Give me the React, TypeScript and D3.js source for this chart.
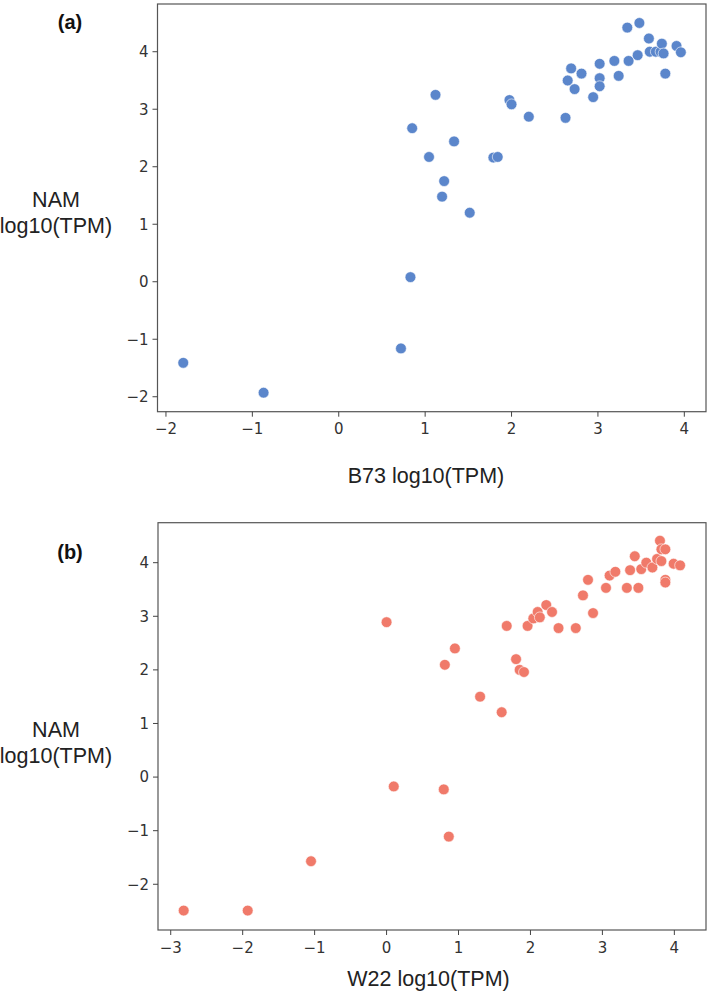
import React from "react";
import * as d3 from "d3";

// Panel (a): B73 vs NAM
const b73X = [-1.80, -0.87, 0.72, 0.83, 1.12, 0.85, 1.045, 1.335, 1.22, 1.196, 1.516, 1.79, 1.84, 1.976, 2.0, 2.20, 2.625, 2.69, 2.65, 2.73, 2.81, 2.945, 3.02, 3.02, 3.02, 3.19, 3.24, 3.34, 3.355, 3.46, 3.48, 3.59, 3.60, 3.67, 3.725, 3.74, 3.76, 3.78, 3.91, 3.96];
const b73Y = [-1.41, -1.93, -1.16, 0.08, 3.25, 2.67, 2.17, 2.44, 1.75, 1.48, 1.20, 2.16, 2.17, 3.16, 3.085, 2.87, 2.85, 3.71, 3.50, 3.35, 3.62, 3.21, 3.79, 3.54, 3.40, 3.84, 3.58, 4.42, 3.84, 3.94, 4.50, 4.23, 4.0, 4.0, 4.0, 4.14, 3.97, 3.62, 4.10, 3.99];

// Panel (b): W22 vs NAM
const w22X = [0.0, -2.82, -1.93, -1.05, 0.10, 0.795, 0.865, 0.81, 0.95, 1.30, 1.60, 1.67, 1.80, 1.85, 1.91, 1.96, 2.04, 2.10, 2.13, 2.22, 2.30, 2.39, 2.63, 2.73, 2.80, 2.87, 3.05, 3.10, 3.18, 3.34, 3.385, 3.45, 3.50, 3.54, 3.61, 3.695, 3.76, 3.80, 3.82, 3.875, 3.82, 3.875, 3.875, 3.99, 4.08];
const w22Y = [2.89, -2.49, -2.49, -1.57, -0.175, -0.23, -1.11, 2.095, 2.40, 1.50, 1.21, 2.82, 2.20, 2.0, 1.96, 2.82, 2.96, 3.08, 2.98, 3.21, 3.08, 2.78, 2.78, 3.39, 3.68, 3.06, 3.53, 3.76, 3.83, 3.53, 3.86, 4.12, 3.53, 3.88, 4.0, 3.91, 4.07, 4.41, 4.25, 4.25, 4.03, 3.68, 3.63, 3.98, 3.95];

const tickValuesA_X = [-2, -1, 0, 1, 2, 3, 4];
const tickValuesA_Y = [-2, -1, 0, 1, 2, 3, 4];
const tickValuesB_X = [-3, -2, -1, 0, 1, 2, 3, 4];
const tickValuesB_Y = [-2, -1, 0, 1, 2, 3, 4];

const TICK_FONT = "'DejaVu Sans', sans-serif";
const LABEL_FONT = "'Liberation Sans', Arial, sans-serif";

type PanelProps = {
  xs: number[];
  ys: number[];
  xDomain: [number, number];
  yDomain: [number, number];
  xTicks: number[];
  yTicks: number[];
  left: number;
  top: number;
  right: number;
  bottom: number;
  color: string;
  letter: string;
  letterY: number;
  xLabel: string;
  xLabelX: number;
  xLabelY: number;
  yLabelY: number;
};

function fmt(v: number) {
  return v < 0 ? "\u2212" + Math.abs(v) : String(v);
}

function Panel(p: PanelProps) {
  const x = d3.scaleLinear().domain(p.xDomain).range([p.left, p.right]);
  const y = d3.scaleLinear().domain(p.yDomain).range([p.bottom, p.top]);
  const pts = p.xs.map((v, i) => [v, p.ys[i]] as [number, number]);
  return (
    <g>
      {pts.map(([a, b], i) => (
        <circle key={i} cx={x(a)} cy={y(b)} r={5.4} fill={p.color} stroke="#ffffff" strokeWidth={0.6} />
      ))}
      <rect x={p.left} y={p.top} width={p.right - p.left} height={p.bottom - p.top} fill="none" stroke="#555" strokeWidth={1.2} />
      {p.xTicks.map((t) => (
        <g key={"x" + t}>
          <line x1={x(t)} x2={x(t)} y1={p.bottom} y2={p.bottom + 5} stroke="#444" strokeWidth={1} />
          <text x={x(t)} y={p.bottom + 22.5} textAnchor="middle" fontFamily={TICK_FONT} fontSize={15} fill="#333">
            {fmt(t)}
          </text>
        </g>
      ))}
      {p.yTicks.map((t) => (
        <g key={"y" + t}>
          <line x1={p.left - 5} x2={p.left} y1={y(t)} y2={y(t)} stroke="#444" strokeWidth={1} />
          <text x={p.left - 9} y={y(t) + 5.3} textAnchor="end" fontFamily={TICK_FONT} fontSize={15} fill="#333">
            {fmt(t)}
          </text>
        </g>
      ))}
      <text x={70} y={p.letterY} textAnchor="middle" fontFamily={LABEL_FONT} fontWeight="bold" fontSize={20} fill="#111">
        {p.letter}
      </text>
      <text x={56} y={p.yLabelY} textAnchor="middle" fontFamily={LABEL_FONT} fontSize={21.5} fill="#222">
        NAM
      </text>
      <text x={56} y={p.yLabelY + 26} textAnchor="middle" fontFamily={LABEL_FONT} fontSize={21.5} fill="#222">
        log10(TPM)
      </text>
      <text x={p.xLabelX} y={p.xLabelY} textAnchor="middle" fontFamily={LABEL_FONT} fontSize={21.5} fill="#222">
        {p.xLabel}
      </text>
    </g>
  );
}

export default function App() {
  return (
    <svg width={709} height={994} style={{ position: "absolute", left: 0, top: 0, background: "#fff" }}>
      <rect width={709} height={994} fill="#fff" />
      <Panel
        xs={b73X}
        ys={b73Y}
        xDomain={[-2.098, 4.251]}
        yDomain={[-2.26, 4.83]}
        xTicks={tickValuesA_X}
        yTicks={tickValuesA_Y}
        left={157.5}
        top={4}
        right={706}
        bottom={411.7}
        color="#5b86cb"
        letter="(a)"
        letterY={29}
        xLabel="B73 log10(TPM)"
        xLabelX={426}
        xLabelY={483}
        yLabelY={207}
      />
      <Panel
        xs={w22X}
        ys={w22Y}
        xDomain={[-3.177, 4.44]}
        yDomain={[-2.853, 4.746]}
        xTicks={tickValuesB_X}
        yTicks={tickValuesB_Y}
        left={158}
        top={522.7}
        right={706}
        bottom={930}
        color="#f07a6a"
        letter="(b)"
        letterY={559}
        xLabel="W22 log10(TPM)"
        xLabelX={428.5}
        xLabelY={986}
        yLabelY={737}
      />
    </svg>
  );
}
